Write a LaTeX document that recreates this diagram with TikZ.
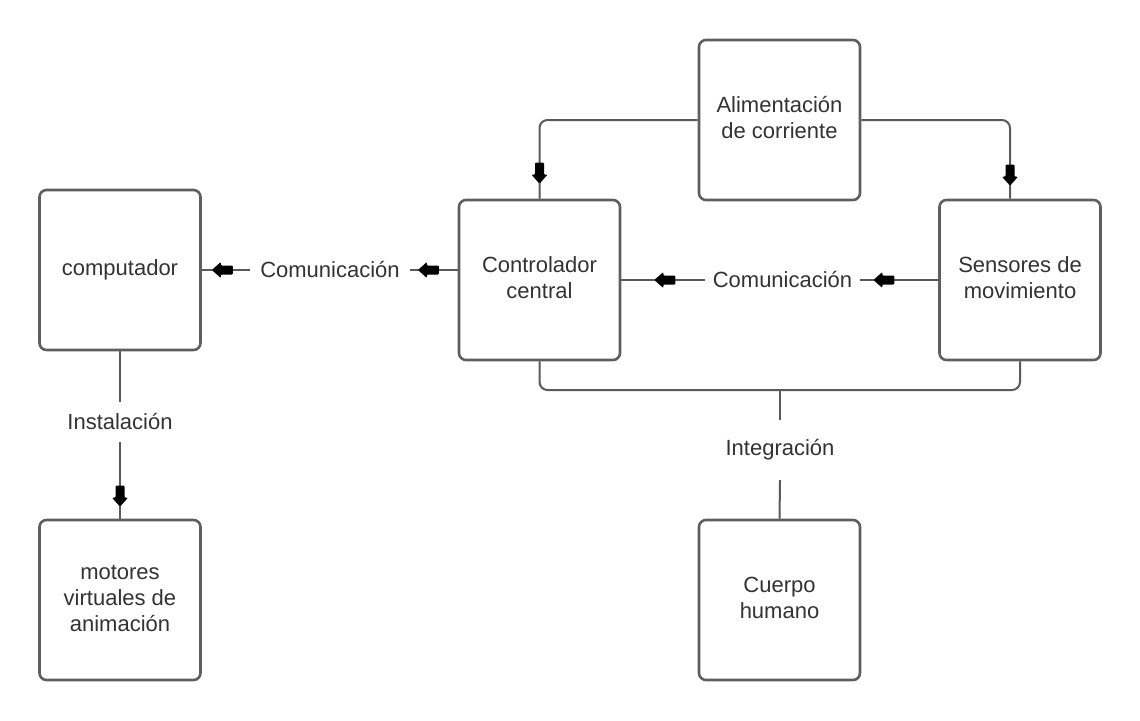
\documentclass[tikz,border=0pt]{standalone}
\usepackage{fontspec}
\setmainfont{Liberation Sans}
\usetikzlibrary{decorations.markings}
\definecolor{boxline}{HTML}{5E5E5E}
\definecolor{connline}{HTML}{5A5A5A}
\definecolor{txt}{HTML}{333333}
\newcommand\bxt[2][4pt]{\raisebox{#1}{\begin{tabular}{@{}c@{}}#2\end{tabular}}}
\tikzset{
  box/.style={draw=boxline, line width=2.6pt, rounded corners=7pt, fill=white,
    minimum width=161pt, minimum height=160pt, inner sep=0pt, align=center,
    text=txt, font=\fontsize{22}{26}\selectfont},
  lbl/.style={inner xsep=10pt, inner ysep=0pt, text=txt, font=\fontsize{22}{26}\selectfont},
  conn/.style={draw=connline, line width=2pt},
  blk/.style={decoration={markings, mark=at position #1 with {
      \fill[black, rounded corners=1pt] (0pt,0pt) -- (-9pt,8pt) -- (-9pt,4.5pt) -- (-21pt,4.5pt) -- (-21pt,-4.5pt) -- (-9pt,-4.5pt) -- (-9pt,-8pt) -- cycle;}},
    postaction={decorate}}
}
\begin{document}
\begin{tikzpicture}[x=1pt, y=-1pt]
\fill[white] (0,0) rectangle (1140,720);
\useasboundingbox (0,0) rectangle (1140,720);

% boxes
\node[box] (comp) at (120,270) {\bxt[2pt]{computador}};
\node[box] (mot)  at (120,600) {\bxt[6pt]{motores\\virtuales de\\animación}};
\node[box] (ctrl) at (539.5,280) {\bxt[5pt]{Controlador\\central}};
\node[box] (alim) at (779.5,120) {\bxt[4pt]{Alimentación\\de corriente}};
\node[box] (sens) at (1020,280) {\bxt[4pt]{Sensores de\\movimiento}};
\node[box] (body) at (779.5,600) {\bxt[3pt]{Cuerpo\\humano}};

% labels
\node[lbl] (com1) at (330,270) {Comunicación};
\node[lbl, inner xsep=8pt] (com2) at (782.5,280) {Comunicación};
\node[lbl, minimum height=40pt] (inst) at (120,422) {Instalación};
\node[lbl, minimum height=60pt] (integ) at (780,450) {Integración};

% coordinates
\coordinate (sensTop) at ([xshift=-10pt]sens.north);
\coordinate (jn) at (780,390);

% power connectors
\draw[conn, rounded corners=8pt] (alim.west) -| (ctrl.north);
\path[blk=-15pt] (ctrl.north |- alim.west) -- (ctrl.north);
\draw[conn, rounded corners=8pt] (alim.east) -| (sensTop);
\path[blk=-13pt] (sensTop |- alim.east) -- (sensTop);

% communication
\draw[conn, blk=-8pt] (ctrl.west |- com1.east) -- (com1.east);
\draw[conn, blk=-10pt] (com1.west) -- (comp.east);
\draw[conn, blk=-13pt] (sens.west) -- (com2.east);
\draw[conn, blk=-33pt] (com2.west) -- (ctrl.east);

% installation
\draw[conn] (comp.south) -- (inst.north);
\draw[conn, blk=-12pt] (inst.south) -- (mot.north);

% integration
\draw[conn, rounded corners=8pt] (ctrl.south) |- (jn) -| (sens.south);
\draw[conn] (jn) -- (integ.north);
\draw[conn] (integ.south) -- (body.north);
\end{tikzpicture}
\end{document}
